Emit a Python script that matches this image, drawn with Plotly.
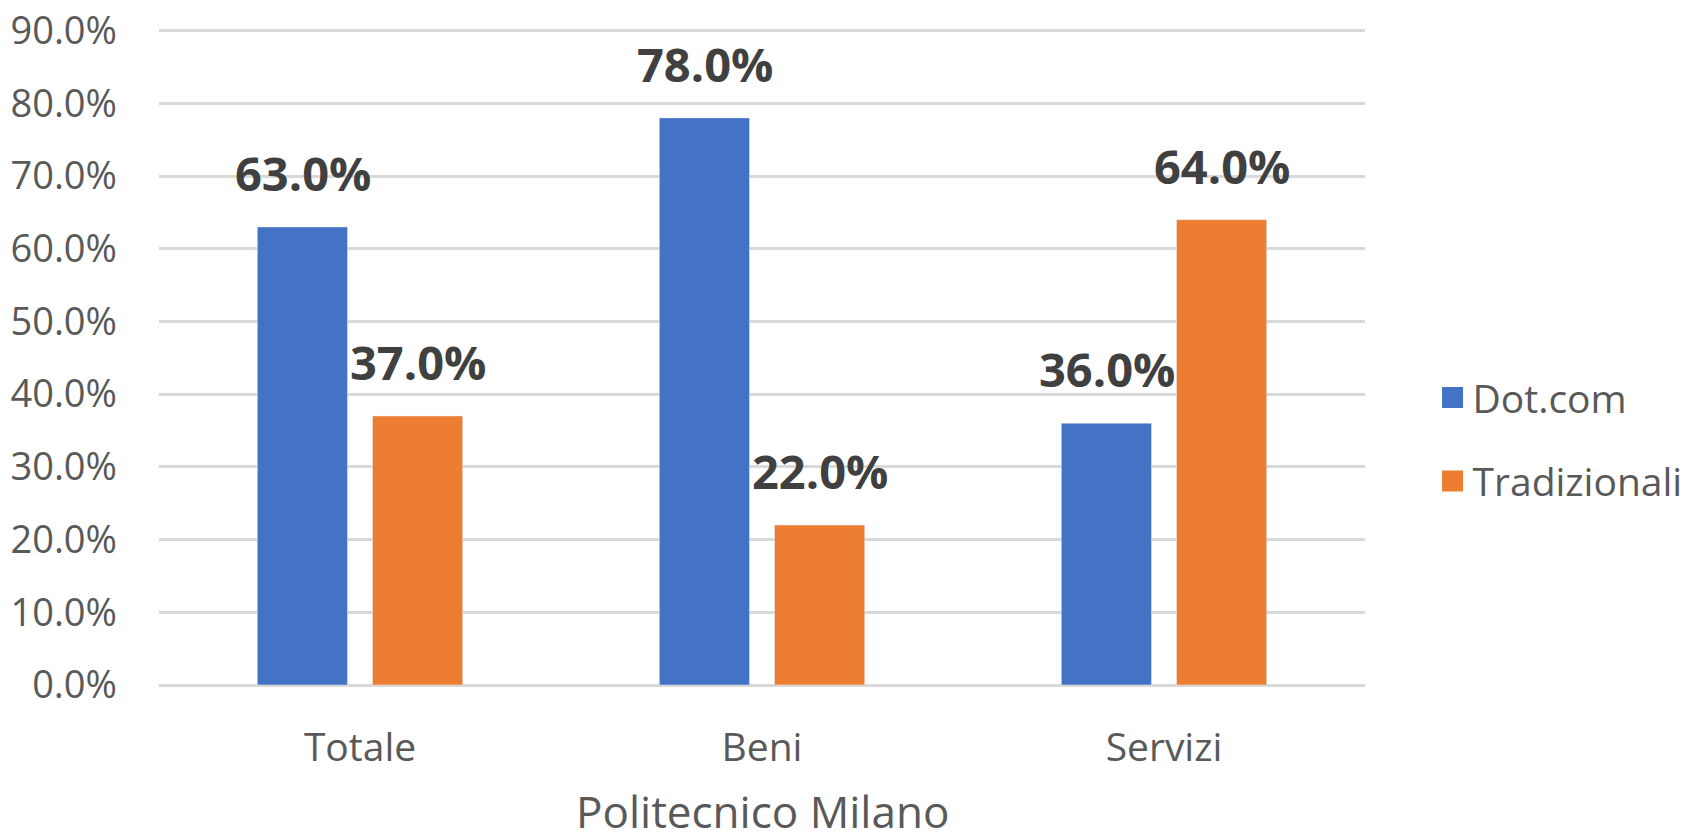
import plotly.graph_objects as go

categories = ["Totale", "Beni", "Servizi"]
dotcom = [0.63, 0.78, 0.36]
tradizionali = [0.37, 0.22, 0.64]
series_names = ["Dot.com", "Tradizionali"]
colors = ["#4472C4", "#ED7D31"]
tick_vals = [0, 0.1, 0.2, 0.3, 0.4, 0.5, 0.6, 0.7, 0.8, 0.9]
x_title = "Politecnico Milano"

FONT = "Open Sans"
fig = go.Figure()
for i, (name, vals) in enumerate(zip(series_names, [dotcom, tradizionali])):
    fig.add_trace(go.Bar(
        x=categories, y=vals, name=name, marker_color=colors[i],
        showlegend=False,
    ))
    # legend entry with a larger square swatch
    fig.add_trace(go.Scatter(
        x=[None], y=[None], mode="markers", name=name, legendgroup=name,
        marker=dict(symbol="square", size=16, color=colors[i],
                    line=dict(width=5, color=colors[i])),
    ))

# data labels above bars
slot_px = 115
for i, vals in enumerate([dotcom, tradizionali]):
    shift = (-0.5 + i) * slot_px
    for c, v in zip(categories, vals):
        fig.add_annotation(
            x=c, y=v, text=f"{v*100:.1f}%", showarrow=False,
            xshift=shift, yanchor="bottom", yshift=20,
            font=dict(family=FONT, size=47, color="#404040", weight="bold"),
        )

# x-axis title
fig.add_annotation(
    xref="paper", yref="paper", x=0.5, y=0, text=x_title, showarrow=False,
    yanchor="middle", yshift=-126,
    font=dict(family=FONT, size=44, color="#595959"),
)

fig.update_layout(
    width=1680, height=826,
    margin=dict(l=151, r=323, t=19, b=149, autoexpand=False),
    paper_bgcolor="white", plot_bgcolor="white",
    barmode="group", bargap=0.427, bargroupgap=0.217,
    font=dict(family=FONT, color="#595959"),
    legend=dict(
        x=1.056, y=0.373, xanchor="left", yanchor="middle",
        font=dict(family=FONT, size=39, color="#595959"),
        tracegroupgap=30, traceorder="grouped",
    ),
    xaxis=dict(
        showgrid=False, showline=False, ticks="", automargin=False,
        tickfont=dict(family=FONT, size=39, color="#595959"),
        ticklabelstandoff=36,
    ),
    yaxis=dict(
        range=[0, 0.905], tickvals=tick_vals, tickformat=".1%",
        showgrid=True, gridcolor="#D9D9D9", gridwidth=3,
        zeroline=True, zerolinecolor="#D9D9D9", zerolinewidth=3,
        showline=False, ticks="", automargin=False,
        ticklabeloverflow="allow",
        tickfont=dict(family=FONT, size=38, color="#595959"),
        ticklabelstandoff=41,
    ),
)

fig.write_html("out.html")
